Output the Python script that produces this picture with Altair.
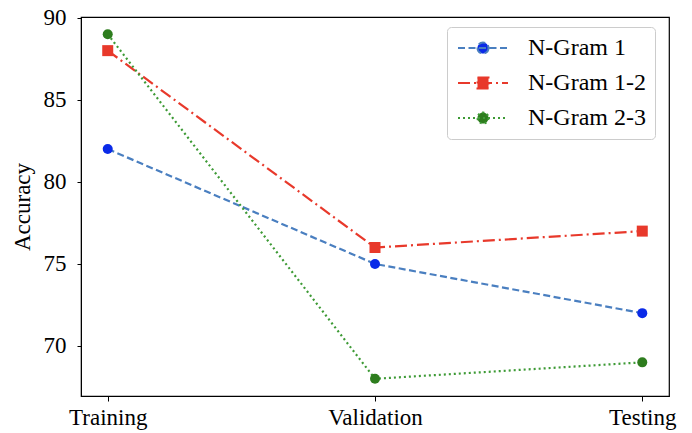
import altair as alt
import pandas as pd

stages = ["Training", "Validation", "Testing"]
series = ["N-Gram 1", "N-Gram 1-2", "N-Gram 2-3"]
ngram1 = [82, 75, 72]
ngram12 = [88, 76, 77]
ngram23 = [89, 68, 69]

line_colors = ["#4a7fc0", "#e8392b", "#3d9a35"]
marker_colors = ["#0a2ae8", "#e8392b", "#2e7d1e"]
dashes = [[7, 3.5], [12, 4, 2, 4], [2, 3]]

# legend glyphs: a short line with the marker in its middle
circ = "M2.05,0A0.55,0.55,0,1,1,0.95,0A0.55,0.55,0,1,1,2.05,0Z"
sq = "M0.95,-0.55H2.05V0.55H0.95Z"
legend_paths = ["M-1,0H4" + circ, "M-1,0H4" + sq, "M-1,0H4" + circ]

rows = []
for name, vals in zip(series, [ngram1, ngram12, ngram23]):
    for st, v in zip(stages, vals):
        rows.append({"stage": st, "acc": v, "series": name})
df = pd.DataFrame(rows)

FONT = "Liberation Serif"

x_enc = alt.X("stage:N", sort=stages,
              scale=alt.Scale(type="point", padding=0.1, domain=stages),
              axis=alt.Axis(title=None, labelAngle=0, labelFontSize=23, labelFont=FONT,
                            labelColor="black", tickColor="black", tickSize=5,
                            domainColor="black", labelPadding=5, grid=False))
y_enc = alt.Y("acc:Q",
              scale=alt.Scale(domain=[66.95, 90.05], nice=False, zero=False),
              axis=alt.Axis(title="Accuracy", values=[70, 75, 80, 85, 90],
                            labelFontSize=23, labelFont=FONT, labelColor="black",
                            titleFont=FONT, titleFontSize=23, titleFontWeight="normal",
                            titleColor="black", titlePadding=9,
                            tickColor="black", tickSize=4, domainColor="black",
                            labelPadding=11, grid=False))

stroke_scale = alt.Scale(domain=series, range=line_colors)
fill_scale = alt.Scale(domain=series, range=marker_colors)
dash_scale = alt.Scale(domain=series, range=dashes)
shape_scale = alt.Scale(domain=series, range=legend_paths)

leg = alt.Legend(title=None, orient="none", legendX=366, legendY=10,
                 labelFont=FONT, labelFontSize=24, labelColor="black",
                 symbolSize=400, symbolStrokeWidth=2, symbolOpacity=1,
                 labelOffset=48, rowPadding=11, padding=9,
                 strokeColor="#cccccc", fillColor="white",
                 cornerRadius=4, labelLimit=300)

lines = alt.Chart(df).mark_line(strokeWidth=2.2).encode(
    x=x_enc, y=y_enc,
    stroke=alt.Stroke("series:N", scale=stroke_scale),
    strokeDash=alt.StrokeDash("series:N", scale=dash_scale),
)

circles = alt.Chart(df).transform_filter(
    alt.datum.series != "N-Gram 1-2").mark_circle(opacity=1, size=100).encode(
    x=x_enc, y=y_enc,
    fill=alt.Fill("series:N", scale=fill_scale),
)

squares = alt.Chart(df).transform_filter(
    alt.datum.series == "N-Gram 1-2").mark_square(opacity=1, size=121).encode(
    x=x_enc, y=y_enc,
    fill=alt.Fill("series:N", scale=fill_scale),
)

legend_layer = alt.Chart(df).transform_filter("false").mark_point(
    filled=True, opacity=1, strokeWidth=2).encode(
    x=x_enc, y=y_enc,
    shape=alt.Shape("series:N", scale=shape_scale, legend=leg),
    fill=alt.Fill("series:N", scale=fill_scale, legend=leg),
    stroke=alt.Stroke("series:N", scale=stroke_scale, legend=leg),
    strokeDash=alt.StrokeDash("series:N", scale=dash_scale, legend=leg),
)

chart = alt.layer(lines, circles, squares, legend_layer).properties(
    width=588, height=379,
    autosize=alt.AutoSizeParams(type="none"),
    padding={"left": 73, "top": 9, "right": 15, "bottom": 37},
).configure_view(stroke="black", strokeWidth=1.2)

chart.save("out.html", embed_options={"renderer": "svg", "actions": False})
